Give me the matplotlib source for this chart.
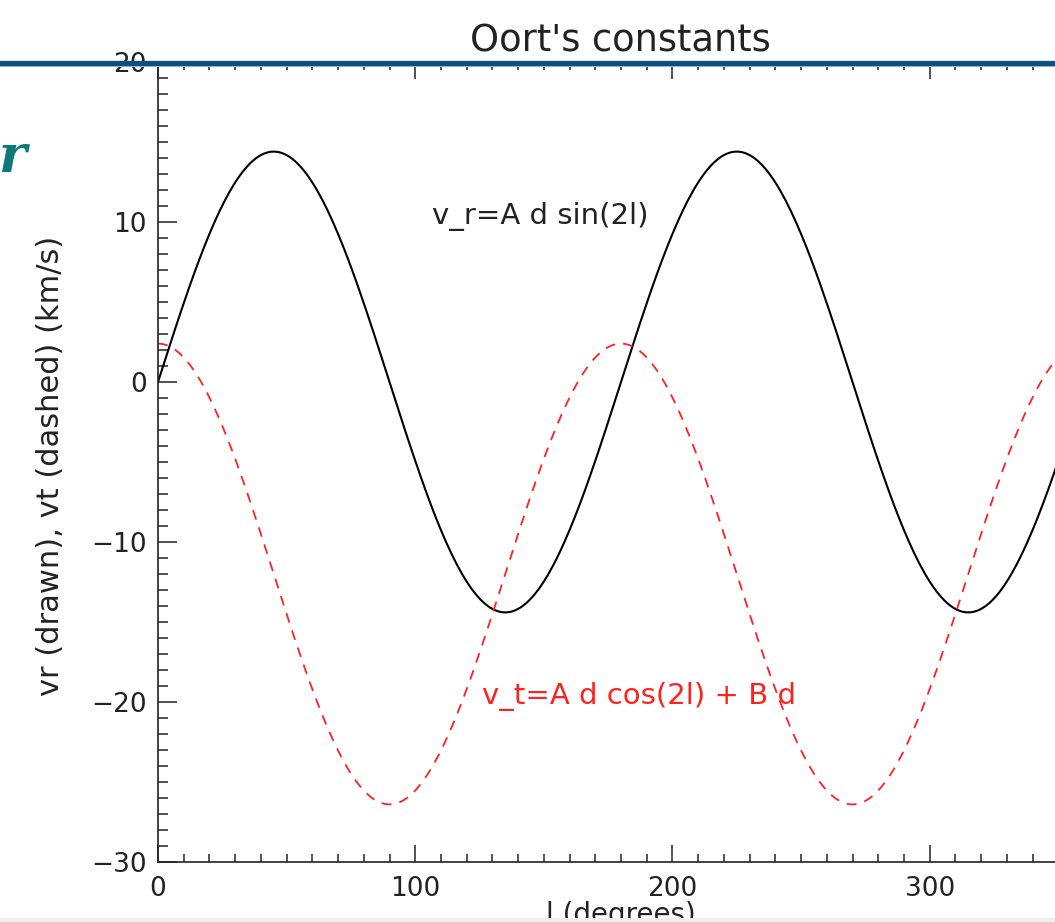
import numpy as np
import matplotlib
matplotlib.use("Agg")
import matplotlib.pyplot as plt
from matplotlib.lines import Line2D
from matplotlib.patches import Rectangle
from matplotlib.ticker import MultipleLocator

# Galactic longitude grid (degrees) and the Oort-constant amplitudes (km/s)
longitude = np.arange(0, 361, 1)
A_d = 14.4    # A * d
B_d = -12.0   # B * d

x_ticks = [0, 100, 200, 300]
y_ticks = [-30, -20, -10, 0, 10, 20]

# Radial and tangential velocity curves from the labelled relations
rad = np.deg2rad(2 * longitude)
v_r = A_d * np.sin(rad)
v_t = A_d * np.cos(rad) + B_d

W, H = 1055, 922
fig = plt.figure(figsize=(W / 100, H / 100), dpi=100)
fig.patch.set_facecolor("white")

ax = fig.add_axes([158 / W, 60 / H, 926 / W, 800 / H])
ax.set_xlim(0, 360)
ax.set_ylim(-30, 20)

ax.plot(longitude, v_r, color="black", lw=1.5, solid_joinstyle="round")
ax.plot(longitude, v_t, color="#ff2020", lw=1.3, dashes=(5.5, 4.5))

ax.set_xticks(x_ticks)
ax.set_yticks(y_ticks)
ax.xaxis.set_minor_locator(MultipleLocator(10))
ax.yaxis.set_minor_locator(MultipleLocator(1))

txt = "#222222"
ax.tick_params(axis="both", which="both", direction="in", colors="#222222",
               width=1.1, top=True, right=True, labelcolor=txt)
ax.tick_params(axis="x", which="major", length=12, labelsize=19, pad=10)
ax.tick_params(axis="x", which="minor", length=6)
ax.tick_params(axis="y", which="major", length=14, labelsize=19, pad=8)
ax.tick_params(axis="y", which="minor", length=7.5)
for sp in ax.spines.values():
    sp.set_linewidth(1.2)
    sp.set_color("#222222")

ax.text(106.5, 9.9, "v_r=A d sin(2l)", color=txt, fontsize=21,
        ha="left", va="baseline")
ax.text(125.9, -20.1, "v_t=A d cos(2l) + B d", color="#ff2020", fontsize=21,
        ha="left", va="baseline")

ax.set_xlabel("l (degrees)", fontsize=20, color=txt)
ax.xaxis.set_label_coords(0.5, -0.049)
ax.xaxis.label.set_va("top")

fig.text(51 / W, (H - 466) / H, "vr (drawn), vt (dashed) (km/s)",
         rotation=90, ha="center", va="center", fontsize=22, color=txt)

fig.text(620 / W, (H - 51.5) / H, "Oort's constants", ha="center",
         va="baseline", fontsize=26.5, color=txt)

# Slide header rule and the tail of the slide heading
fig.add_artist(Line2D([0, 1], [(H - 63) / H] * 2, transform=fig.transFigure,
                      color="#0b5080", lw=3.8, zorder=10))
fig.add_artist(Line2D([0, 1], [(H - 66) / H] * 2, transform=fig.transFigure,
                      color="#a9c4d6", lw=0.8, zorder=9))
fig.text(26 / W, (H - 172) / H, "r", ha="right", va="baseline",
         fontsize=38, family="DejaVu Serif", style="italic", weight="bold",
         color="#0e7a78")

fig.add_artist(Rectangle((0, 0), 1, 4 / H, transform=fig.transFigure,
                         facecolor="#eeeeee", edgecolor="none", zorder=11))

fig.savefig("out.png", dpi=100)
